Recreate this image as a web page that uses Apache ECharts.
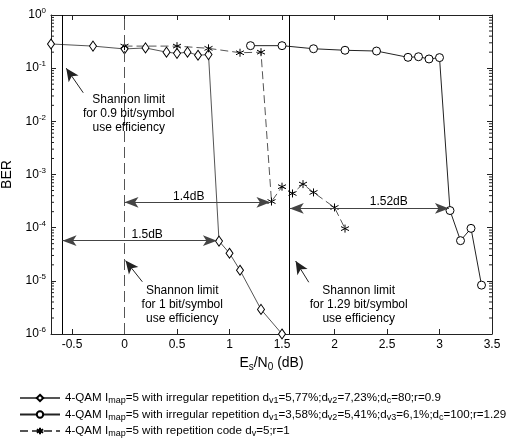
<!DOCTYPE html>
<html><head><meta charset="utf-8">
<script src="https://cdn.jsdelivr.net/npm/echarts@6/dist/echarts.min.js"></script>
<style>html,body{margin:0;padding:0;background:#fff}#c{width:527px;height:442px}</style>
</head><body><div id="c"></div>
<script>
// ---- data ----
const s1x = [-0.7, -0.3, 0, 0.2, 0.4, 0.5, 0.6, 0.7, 0.8, 0.9, 1.0, 1.1, 1.3, 1.5];
const s1y = [0.285, 0.26, 0.23, 0.24, 0.2, 0.19, 0.2, 0.175, 0.18, 5.6e-5, 3.3e-5, 1.58e-5, 2.9e-6, 1e-6];
const s2x = [1.2, 1.5, 1.8, 2.1, 2.4, 2.7, 2.8, 2.9, 3.0, 3.1, 3.2, 3.3, 3.4];
const s2y = [0.265, 0.265, 0.232, 0.217, 0.21, 0.16, 0.164, 0.149, 0.158, 2.1e-4, 5.7e-5, 9.7e-5, 8.3e-6];
const s3x = [0, 0.5, 0.8, 1.1, 1.3, 1.4, 1.5, 1.6, 1.7, 1.8, 2.0, 2.1];
const s3y = [0.26, 0.26, 0.236, 0.195, 0.2, 3.1e-4, 5.9e-4, 4.4e-4, 6.6e-4, 4.6e-4, 2.4e-4, 9.6e-5];
const xTicks = [-0.5, 0, 0.5, 1, 1.5, 2, 2.5, 3, 3.5];
const xMin = -0.7, xMax = 3.5;
const yMin = 1e-6, yMax = 1;
const decades = [-6, -5, -4, -3, -2, -1];
const mantissas = [2, 3, 4, 5, 6, 7, 8, 9];
const shannonLimits = [-0.59, 0, 1.574];
const legendNames = ['s1', 's2', 's3'];
const legendTexts = {
  s1: '4-QAM I{s|map}=5 with irregular repetition d{s|v1}=5,77%;d{s|v2}=7,23%;d{s|c}=80;r=0.9',
  s2: '4-QAM I{s|map}=5 with irregular repetition d{s|v1}=3,58%;d{s|v2}=5,41%;d{s|v3}=6,1%;d{s|c}=100;r=1.29',
  s3: '4-QAM I{s|map}=5 with repetition code d{s|v}=5;r=1'
};
// annotations (data coordinates)
const notes = [
  {x: 0.04, y: 0.0137, text: 'Shannon limit\nfor 0.9 bit/symbol\nuse efficiency'},
  {x: 0.55, y: 3.6e-6, text: 'Shannon limit\nfor 1 bit/symbol\nuse efficiency'},
  {x: 2.23, y: 3.6e-6, text: 'Shannon limit\nfor 1.29 bit/symbol\nuse efficiency'},
  {x: 0.612, y: 3.83e-4, text: '1.4dB'},
  {x: 0.216, y: 7.5e-5, text: '1.5dB'},
  {x: 2.517, y: 3.08e-4, text: '1.52dB'}
];
const pointerArrows = [
  [[-0.393, 0.0345], [-0.555, 0.1]],
  [[0.17, 9.6e-6], [0.01, 2.4e-5]],
  [[1.755, 9.4e-6], [1.63, 2.36e-5]]
];
const gapArrows = [
  [[0, 3.0e-4], [1.39, 3.0e-4]],
  [[-0.59, 5.7e-5], [0.88, 5.7e-5]],
  [[1.574, 2.3e-4], [3.09, 2.3e-4]]
];

const FONT = 'Liberation Sans, Arial, sans-serif';
const zip = (a, b) => a.map((v, i) => [v, b[i]]);
const minorVals = [];
decades.forEach(e => mantissas.forEach(m => minorVals.push([xMin, m * Math.pow(10, e)])));
const asterisk = 'path://M0,-5L0,5M-4.5,-2.5L4.5,2.5M-4.5,2.5L4.5,-2.5M0,-5';

const chart = echarts.init(document.getElementById('c'), null, {renderer: 'canvas'});
const markLineData = [];
shannonLimits.forEach((v, i) => markLineData.push({
  xAxis: v,
  lineStyle: i === 1 ? {color: '#555', type: [11, 5], width: 1} : {color: '#000', type: 'solid', width: 1}
}));
pointerArrows.forEach(a => markLineData.push([
  {coord: a[0], symbol: 'none', lineStyle: {color: '#222', width: 1, type: 'solid'}},
  {coord: a[1], symbol: 'arrow', symbolSize: [9, 13]}
]));
gapArrows.forEach(a => markLineData.push([
  {coord: a[0], symbol: 'arrow', symbolSize: [8, 14], lineStyle: {color: '#444', width: 1, type: 'solid'}},
  {coord: a[1], symbol: 'arrow', symbolSize: [8, 14]}
]));

const legendTextStyle = {fontSize: 11.6, color: '#000', fontFamily: FONT,
  rich: {s: {fontSize: 9, padding: [6, 0, 0, 0], fontFamily: FONT, color: '#000'}}};
const legendTops = [387, 403.5, 420];
const legends = legendNames.map((n, i) => ({
  data: [n], orient: 'horizontal', left: 14, top: legendTops[i],
  itemWidth: 40, itemHeight: 8, itemGap: 4,
  formatter: k => legendTexts[k], textStyle: legendTextStyle
}));

const option = {
  animation: false,
  textStyle: {fontFamily: FONT},
  grid: {left: 51, right: 35, top: 15, bottom: 108, show: false, outerBoundsMode: 'none', containLabel: false},
  legend: legends,
  xAxis: [{
    type: 'value', min: xMin, max: xMax,
    name: 'E{s|s}/N{s|0} (dB)', nameLocation: 'middle', nameGap: 19,
    nameTextStyle: {fontSize: 14, color: '#000', fontFamily: FONT,
      rich: {s: {fontSize: 10, padding: [9, 0, 0, 0], fontFamily: FONT, color: '#000'}}},
    axisLine: {show: true, onZero: false, lineStyle: {color: '#222'}},
    axisTick: {show: true, inside: true, length: 5, customValues: xTicks, lineStyle: {color: '#222'}},
    axisLabel: {show: true, customValues: xTicks, fontSize: 12, color: '#000', margin: 5, fontFamily: FONT},
    splitLine: {show: false}
  }, {
    type: 'value', min: xMin, max: xMax, position: 'top',
    axisLine: {show: true, onZero: false, lineStyle: {color: '#222'}},
    axisTick: {show: true, inside: true, length: 5, customValues: xTicks, lineStyle: {color: '#222'}},
    axisLabel: {show: false}, splitLine: {show: false}
  }],
  yAxis: [{
    type: 'log', logBase: 10, min: yMin, max: yMax, interval: 1,
    name: 'BER', nameLocation: 'middle', nameGap: 30,
    nameTextStyle: {fontSize: 14, color: '#000', fontFamily: FONT},
    axisLine: {show: true, onZero: false, lineStyle: {color: '#222'}},
    axisTick: {show: true, inside: true, length: 5, lineStyle: {color: '#222'}},
    axisLabel: {
      show: true, margin: 5, color: '#000', fontSize: 12, fontFamily: FONT,
      showMinLabel: true, showMaxLabel: true,
      formatter: v => '10{sup|' + Math.round(Math.log10(v)) + '}',
      rich: {sup: {fontSize: 8, padding: [0, 0, 8, 0], fontFamily: FONT, color: '#000'}}
    },
    splitLine: {show: false}
  }, {
    type: 'log', logBase: 10, min: yMin, max: yMax, interval: 1, position: 'right',
    axisLine: {show: true, onZero: false, lineStyle: {color: '#222'}},
    axisTick: {show: true, inside: true, length: 5, lineStyle: {color: '#222'}},
    axisLabel: {show: false}, splitLine: {show: false}
  }],
  series: [
    {
      name: 's1', type: 'line', data: zip(s1x, s1y), showAllSymbol: true,
      symbol: 'diamond', symbolSize: [7, 10],
      itemStyle: {color: '#fff', borderColor: '#000', borderWidth: 1},
      lineStyle: {color: '#555', width: 1},
      z: 3,
      markLine: {silent: true, animation: false, symbol: ['none', 'none'], label: {show: false}, data: markLineData},
      markPoint: {
        silent: true, animation: false,
        data: notes.map(n => ({
          coord: [n.x, n.y], symbol: 'rect', symbolSize: 1,
          itemStyle: {color: 'rgba(0,0,0,0)'},
          label: {show: true, position: 'inside', formatter: n.text, color: '#000',
            fontSize: 12, lineHeight: 14, fontFamily: FONT, align: 'center'}
        }))
      }
    },
    {
      name: 's2', type: 'line', data: zip(s2x, s2y), showAllSymbol: true,
      symbol: 'circle', symbolSize: 8,
      itemStyle: {color: '#fff', borderColor: '#000', borderWidth: 1},
      lineStyle: {color: '#222', width: 1}, z: 3
    },
    {
      name: 's3', type: 'line', data: zip(s3x, s3y), showAllSymbol: true,
      symbol: asterisk, symbolSize: 8,
      itemStyle: {color: '#000', borderColor: '#000', borderWidth: 1},
      lineStyle: {color: '#555', width: 1, type: [8, 4]}, z: 3
    },
    {
      name: 'minorTicks', type: 'custom', silent: true, data: minorVals, z: 2,
      renderItem: (params, api) => {
        const v = api.value(1);
        const l = api.coord([xMin, v]);
        const r = api.coord([xMax, v]);
        const st = {stroke: '#222', lineWidth: 1};
        return {type: 'group', children: [
          {type: 'line', shape: {x1: l[0], y1: l[1], x2: l[0] + 3, y2: l[1]}, style: st},
          {type: 'line', shape: {x1: r[0], y1: r[1], x2: r[0] - 3, y2: r[1]}, style: st}
        ]};
      }
    }
  ]
};
chart.setOption(option);
</script></body></html>
